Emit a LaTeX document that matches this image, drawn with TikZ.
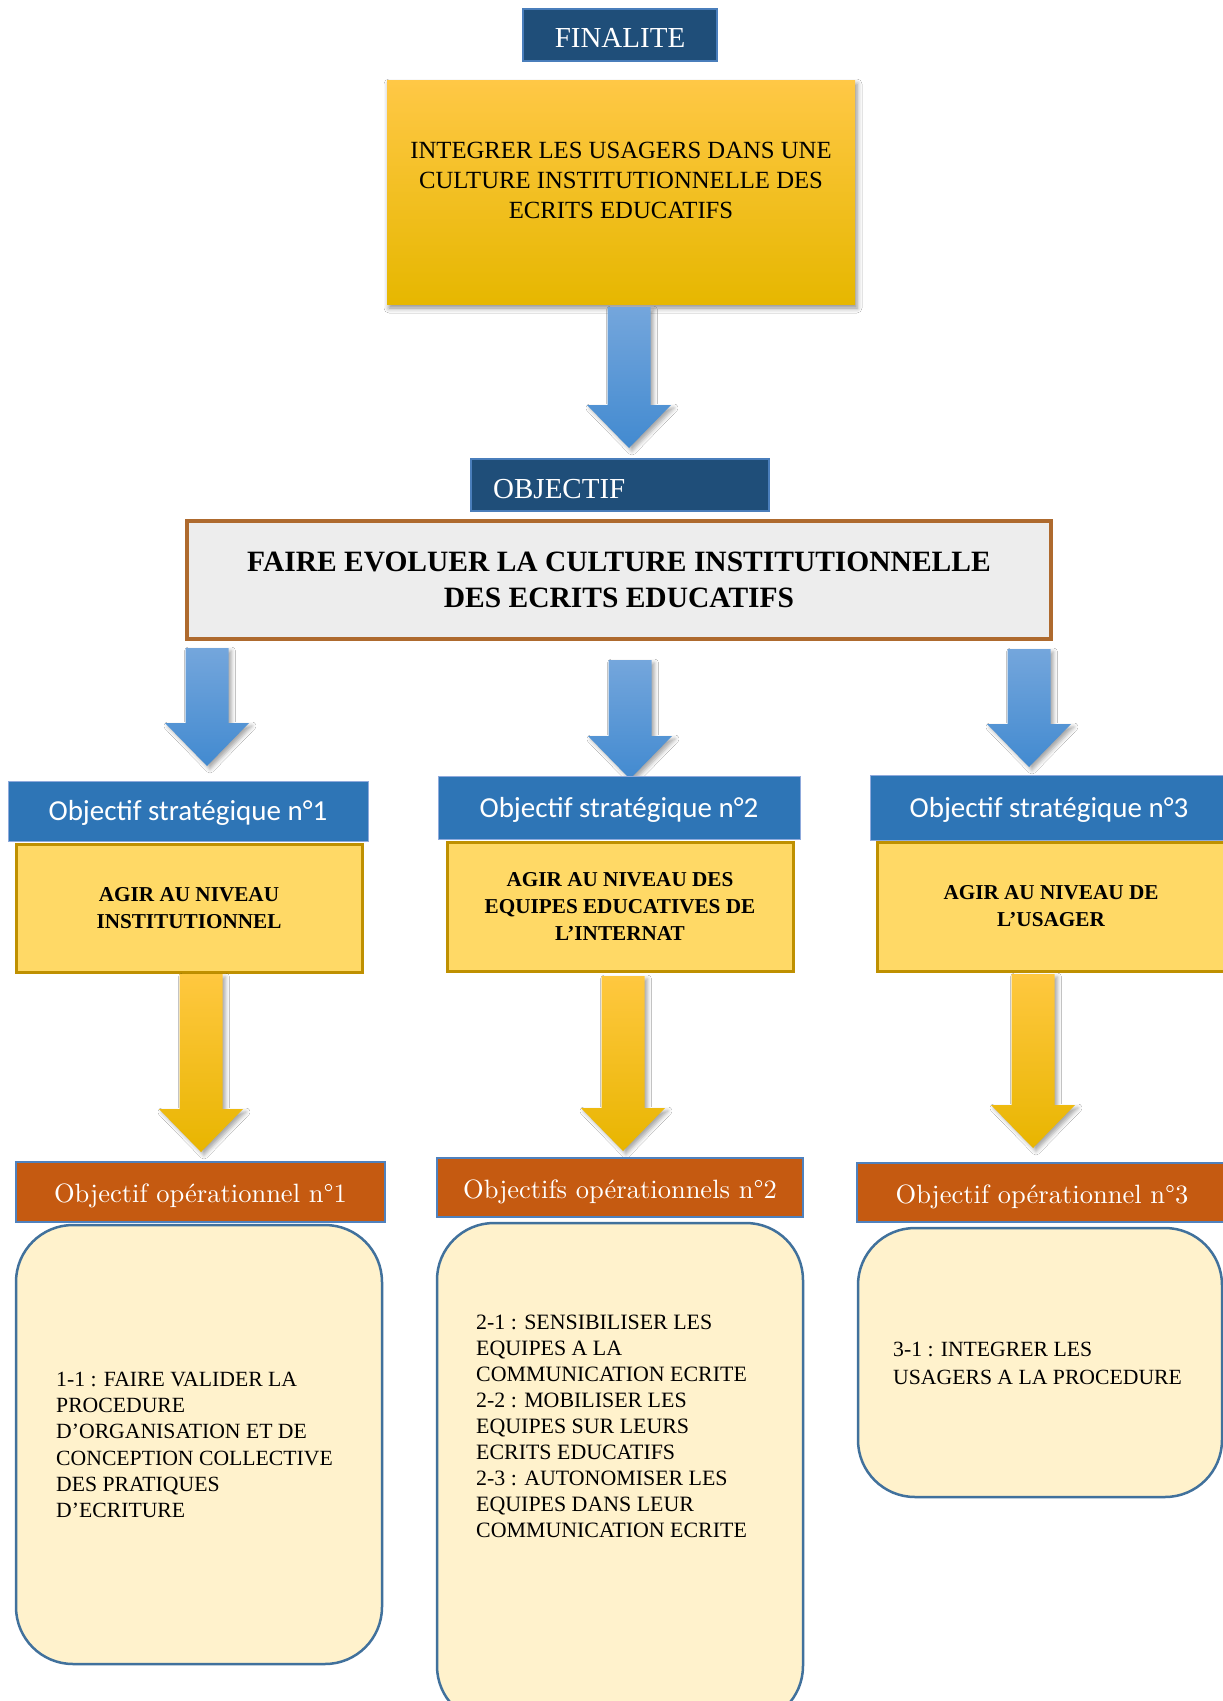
\documentclass[tikz,border=0pt]{standalone}
\usepackage{fontspec}
\newfontfamily\timesrm{Liberation Serif}
\newfontfamily\carlito{Carlito}
\newfontfamily\lmten{lmroman10-regular.otf}
\usetikzlibrary{calc,shadows.blur}

\definecolor{navyfill}{RGB}{31,78,121}
\definecolor{navyline}{RGB}{74,126,187}
\definecolor{goaltop}{RGB}{255,200,70}
\definecolor{goalmid}{RGB}{255,192,0}
\definecolor{goalbot}{RGB}{230,183,0}
\definecolor{greyfill}{RGB}{237,237,237}
\definecolor{brownline}{RGB}{174,106,46}
\definecolor{stratfill}{RGB}{46,117,182}
\definecolor{stratline}{RGB}{143,170,220}
\definecolor{agirfill}{RGB}{255,217,102}
\definecolor{agirline}{RGB}{191,144,0}
\definecolor{opfill}{RGB}{197,90,17}
\definecolor{opline}{RGB}{79,129,189}
\definecolor{cardfill}{RGB}{255,242,204}
\definecolor{cardline}{RGB}{65,113,156}
\definecolor{arrowbluetop}{RGB}{116,166,220}
\definecolor{arrowbluebot}{RGB}{66,138,208}
\definecolor{arrowyeltop}{RGB}{255,200,64}
\definecolor{arrowyelmid}{RGB}{255,192,0}
\definecolor{arrowyelbot}{RGB}{232,181,0}

% block arrow: #1 style, #2 top centre of the shaft, #3 tip
\newcommand{\blockarrow}[3]{%
  \path[#1] ($(#2)+(-21.5,0)$) -- ($(#2)+(21.5,0)$) -- ($(#3)+(21.5,-43)$)
    -- ($(#3)+(42,-43)$) -- (#3) -- ($(#3)+(-42,-43)$) -- ($(#3)+(-21.5,-43)$) -- cycle;}

\tikzset{
  titlebox/.style={draw=navyline, line width=1.5pt, fill=navyfill, text=white,
    inner sep=0pt, font=\timesrm\fontsize{29}{34}\selectfont},
  goalbox/.style={top color=goaltop, middle color=goalmid, bottom color=goalbot,
    inner sep=0pt, blur shadow={shadow xshift=2pt, shadow yshift=-4pt,
    shadow blur radius=5pt, shadow opacity=45}},
  mainbox/.style={draw=brownline, line width=3.5pt, fill=greyfill, inner sep=0pt,
    align=center, font=\timesrm\bfseries\fontsize{29.5}{36}\selectfont},
  stratbox/.style={draw=stratline, line width=1pt, fill=stratfill, text=white,
    inner sep=0pt, text height=22pt, text depth=3pt,
    font=\carlito\fontsize{29}{34}\selectfont},
  agirbox/.style={draw=agirline, line width=3pt, fill=agirfill, inner sep=0pt,
    align=center, font=\timesrm\bfseries\fontsize{21.2}{27}\selectfont},
  opbox/.style={draw=opline, line width=2pt, fill=opfill, text=white,
    inner sep=0pt, text height=27pt, text depth=5.5pt,
    font=\lmten\fontsize{26.5}{30}\selectfont},
  cardbox/.style={draw=cardline, line width=2.5pt, fill=cardfill,
    rounded corners=57pt, inner sep=0pt},
  cardtext/.style={anchor=west, align=left, inner sep=0pt,
    font=\timesrm\fontsize{21.7}{26.2}\selectfont},
  bluearrow/.style={top color=arrowbluetop, bottom color=arrowbluebot,
    blur shadow={shadow xshift=3pt, shadow yshift=-3pt, shadow blur radius=4pt,
    shadow opacity=35}},
  yellowarrow/.style={top color=arrowyeltop, middle color=arrowyelmid,
    bottom color=arrowyelbot,
    blur shadow={shadow xshift=3pt, shadow yshift=-3pt, shadow blur radius=4pt,
    shadow opacity=35}},
}

\begin{document}
\begin{tikzpicture}[x=1pt,y=-1pt]
\useasboundingbox (0,0) rectangle (1223,1701);
\clip (0,0) rectangle (1223,1701);
\fill[white] (0,0) rectangle (1223,1701);

% arrow end points
\coordinate (a0s) at (629,307);  \coordinate (a0e) at (629,448);
\coordinate (b1s) at (207,648);  \coordinate (b1e) at (207,766);
\coordinate (b2s) at (630,660);  \coordinate (b2e) at (630,779);
\coordinate (b3s) at (1029,649); \coordinate (b3e) at (1029,767);
\coordinate (y1s) at (201,974);  \coordinate (y1e) at (201,1152);
\coordinate (y2s) at (623,976);  \coordinate (y2e) at (623,1151);
\coordinate (y3s) at (1033,974); \coordinate (y3e) at (1033,1148);

% top level
\node[titlebox, text height=25pt, text depth=0pt, minimum width=194pt, minimum height=52pt] (fin) at (620,35) {FINALITE};
\node[goalbox, minimum width=468pt, minimum height=224pt] (goal) at (621,192) {};
\node[align=center, inner sep=0pt, font=\timesrm\fontsize{24.7}{30}\selectfont] (goaltext) at (621,180)
  {INTEGRER LES USAGERS DANS UNE\\CULTURE INSTITUTIONNELLE DES\\ECRITS EDUCATIFS};

\blockarrow{bluearrow}{a0s}{a0e}

\node[titlebox, minimum width=298pt, minimum height=52pt] (obj) at (620,485) {};
\node[anchor=west, inner sep=0pt, text=white, font=\timesrm\fontsize{29}{34}\selectfont] (objtext) at (493,489) {OBJECTIF};
\node[mainbox, minimum width=864pt, minimum height=118pt] (main) at (619,580)
  {FAIRE EVOLUER LA CULTURE INSTITUTIONNELLE\\DES ECRITS EDUCATIFS};

% strategic level
\blockarrow{bluearrow}{b1s}{b1e}
\blockarrow{bluearrow}{b2s}{b2e}
\blockarrow{bluearrow}{b3s}{b3e}

\node[stratbox, minimum width=360pt, minimum height=60pt] (s1) at (188,811) {Objectif stratégique n°1};
\node[stratbox, minimum width=362pt, minimum height=63pt] (s2) at (619,807.5) {Objectif stratégique n°2};
\node[stratbox, minimum width=358pt, minimum height=65pt] (s3) at (1049,807.5) {Objectif stratégique n°3};

\node[agirbox, minimum width=346pt, minimum height=128pt] (g1) at (189,908) {AGIR AU NIVEAU\\INSTITUTIONNEL};
\node[agirbox, minimum width=346pt, minimum height=129pt] (g2) at (620,906.5) {AGIR AU NIVEAU DES\\EQUIPES EDUCATIVES DE\\L’INTERNAT};
\node[agirbox, minimum width=348pt, minimum height=129pt] (g3) at (1051,906.5) {AGIR AU NIVEAU DE\\L’USAGER};

% operational level
\blockarrow{yellowarrow}{y1s}{y1e}
\blockarrow{yellowarrow}{y2s}{y2e}
\blockarrow{yellowarrow}{y3s}{y3e}

\node[opbox, minimum width=369pt, minimum height=60pt] (o1) at (200.5,1192) {Objectif opérationnel n°1};
\node[opbox, minimum width=366pt, minimum height=59pt] (o2) at (620,1187.5) {Objectifs opérationnels n°2};
\node[opbox, minimum width=370pt, minimum height=59pt] (o3) at (1042,1192.5) {Objectif opérationnel n°3};

\node[cardbox, minimum width=366pt, minimum height=439pt] (c1) at (199,1444.5) {};
\node[cardtext] (c1text) at (56,1445)
  {1-1 : FAIRE VALIDER LA\\PROCEDURE\\D’ORGANISATION ET DE\\CONCEPTION COLLECTIVE\\DES PRATIQUES\\D’ECRITURE};

\node[cardbox, minimum width=366pt, minimum height=500pt] (c2) at (620,1473) {};
\node[cardtext, font=\timesrm\fontsize{21.9}{26}\selectfont] (c2text) at (476,1426)
  {2-1 : SENSIBILISER LES\\EQUIPES A LA\\COMMUNICATION ECRITE\\2-2 : MOBILISER LES\\EQUIPES SUR LEURS\\ECRITS EDUCATIFS\\2-3 : AUTONOMISER LES\\EQUIPES DANS LEUR\\COMMUNICATION ECRITE};

\node[cardbox, minimum width=364pt, minimum height=269pt] (c3) at (1040,1362.5) {};
\node[cardtext, font=\timesrm\fontsize{21.7}{28}\selectfont] (c3text) at (893,1363)
  {3-1 : INTEGRER LES\\USAGERS A LA PROCEDURE};
\end{tikzpicture}
\end{document}
